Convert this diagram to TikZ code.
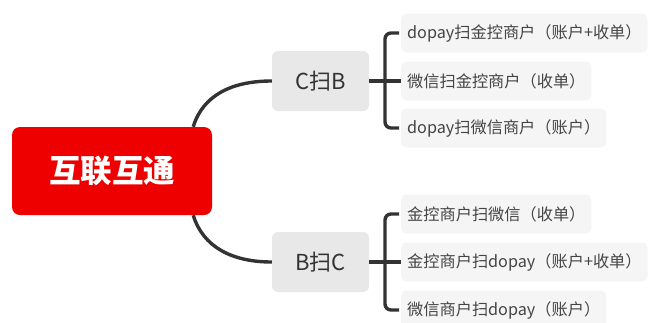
\documentclass[tikz,border=0pt]{standalone}
\usepackage{fontspec}
\setmainfont{Noto Sans CJK SC}
\usetikzlibrary{calc}
\definecolor{rootred}{RGB}{238,0,0}
\definecolor{midgray}{RGB}{232,232,232}
\definecolor{leafgray}{RGB}{245,245,245}
\definecolor{linec}{RGB}{51,51,51}
\definecolor{textc}{RGB}{51,51,51}
\definecolor{leaftext}{RGB}{68,68,68}
\tikzset{
  rootbox/.style={fill=rootred, rounded corners=8pt, minimum width=200pt, minimum height=88pt, text=white, font=\fontsize{31.5}{36}\selectfont\bfseries},
  midbox/.style={fill=midgray, rounded corners=6pt, minimum width=97pt, minimum height=60pt, text=textc, font=\fontsize{22}{26}\selectfont},
  leafbox/.style={fill=leafgray, rounded corners=6pt, anchor=west, inner xsep=6pt, minimum height=39pt, text=leaftext, font=\fontsize{16.2}{19}\selectfont},
  conn/.style={draw=linec, line width=3.4pt},
  brk/.style={draw=linec, line width=3.4pt, rounded corners=6pt}
}
\begin{document}
\begin{tikzpicture}[x=1pt,y=-1pt]
\useasboundingbox (0,0) rectangle (648,322);
\node[rootbox] (root) at (112,171) {互联互通};
\node[midbox] (cb) at (320.5,81) {C扫B};
\node[midbox] (bc) at (320.5,262) {B扫C};
\node[leafbox] (c1) at (401,33) {dopay扫金控商户（账户+收单）};
\node[leafbox] (c2) at (401,81) {微信扫金控商户（收单）};
\node[leafbox] (c3) at (401,128) {dopay扫微信商户（账户）};
\node[leafbox] (c4) at (401,214) {金控商户扫微信（收单）};
\node[leafbox] (c5) at (401,262) {金控商户扫dopay（账户+收单）};
\node[leafbox] (c6) at (401,310) {微信商户扫dopay（账户）};
\coordinate (rt) at ($(root.north east)+(-19,0)$);
\coordinate (rb) at ($(root.south east)+(-19,0)$);
\draw[conn] (rt) .. controls (203,95) and (232,81) .. (cb.west);
\draw[conn] (rb) .. controls (203,247) and (232,262) .. (bc.west);
\coordinate (bx1) at (385,81);
\coordinate (bx2) at (385,262);
\draw[conn] (cb.east) -- (c2.west);
\draw[brk] ($(c1.west)+(-2,0)$) -| (bx1) |- ($(c3.west)+(-2,0)$);
\draw[conn] (bc.east) -- (c5.west);
\draw[brk] ($(c4.west)+(-2,0)$) -| (bx2) |- ($(c6.west)+(-2,0)$);
\end{tikzpicture}
\end{document}
